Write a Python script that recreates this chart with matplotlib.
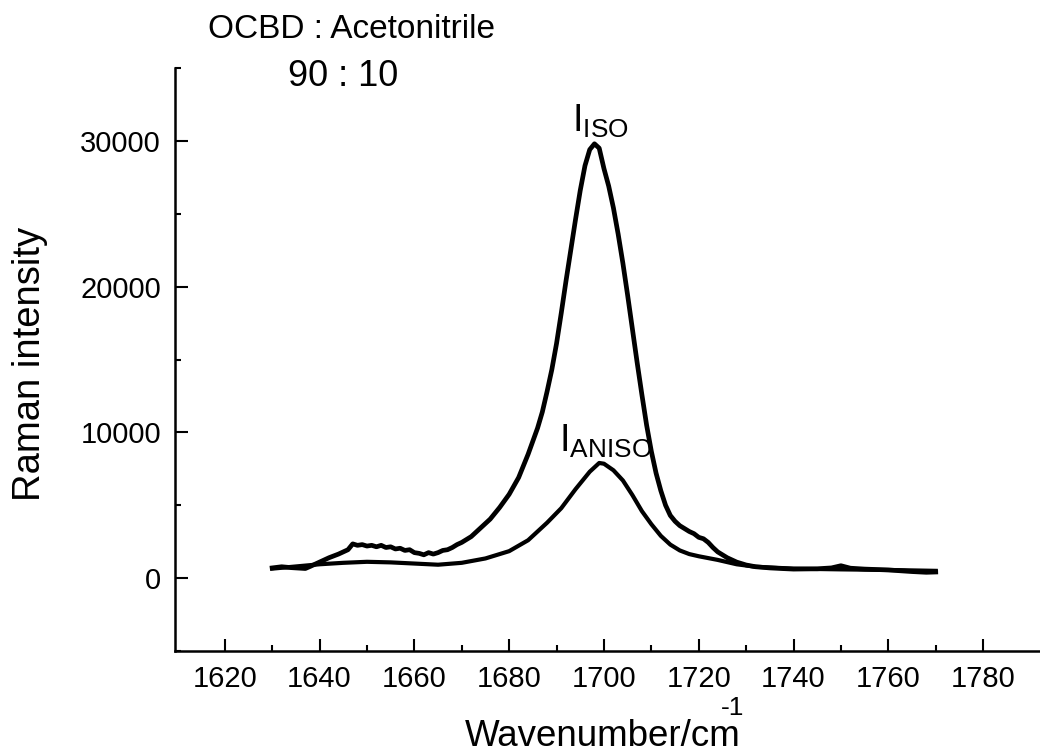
import numpy as np
import matplotlib
matplotlib.use("Agg")
from matplotlib import pyplot as plt
from matplotlib.ticker import MultipleLocator, FixedLocator

plt.rcParams['font.family'] = ['Liberation Sans', 'DejaVu Sans']
plt.rcParams['mathtext.fontset'] = 'custom'
plt.rcParams['mathtext.rm'] = 'Liberation Sans'

# isotropic Raman spectrum (wavenumber, intensity)
iso_w = [1630, 1632, 1634, 1636, 1637, 1638, 1640, 1642, 1644, 1645, 1646, 1647,
         1648, 1649, 1650, 1651, 1652, 1653, 1654, 1655, 1656, 1657, 1658, 1659,
         1660, 1661, 1662, 1663, 1664, 1665, 1666, 1667, 1668, 1669, 1670, 1672,
         1674, 1676, 1678, 1680, 1682, 1684, 1686, 1687, 1688, 1689, 1690, 1691,
         1692, 1693, 1694, 1695, 1696, 1697, 1698, 1699, 1700, 1701, 1702, 1703,
         1704, 1705, 1706, 1707, 1708, 1709, 1710, 1711, 1712, 1713, 1714, 1715,
         1716, 1717, 1718, 1719, 1720, 1721, 1722, 1723, 1724, 1725, 1726, 1727,
         1728, 1730, 1732, 1735, 1738, 1740, 1745, 1748, 1750, 1752, 1755, 1760,
         1765, 1768, 1770]
iso_i = [700, 780, 720, 680, 660, 800, 1100, 1400, 1650, 1800, 1950, 2350,
         2250, 2300, 2200, 2250, 2150, 2250, 2100, 2150, 2000, 2050, 1900, 1950,
         1750, 1700, 1600, 1750, 1650, 1750, 1900, 1950, 2100, 2300, 2450, 2850,
         3450, 4050, 4850, 5750, 6900, 8500, 10300, 11400, 12800, 14300, 16100, 18200,
         20400, 22500, 24600, 26600, 28300, 29400, 29800, 29500, 28100, 26900, 25400, 23600,
         21600, 19400, 17100, 14800, 12600, 10500, 8700, 7200, 6000, 5000, 4300, 3900,
         3600, 3400, 3200, 3050, 2800, 2700, 2450, 2100, 1800, 1600, 1400, 1250,
         1100, 900, 780, 700, 650, 620, 640, 700, 850, 680, 620, 560,
         450, 400, 420]

# anisotropic Raman spectrum
aniso_w = [1630, 1635, 1640, 1645, 1650, 1655, 1660, 1665, 1670, 1675, 1680, 1684,
           1688, 1691, 1694, 1697, 1699, 1700, 1702, 1704, 1706, 1708, 1710, 1712,
           1714, 1716, 1718, 1720, 1724, 1728, 1732, 1740, 1750, 1760, 1770]
aniso_i = [650, 800, 950, 1050, 1120, 1080, 1000, 920, 1050, 1350, 1850, 2600,
           3800, 4800, 6100, 7300, 7900, 7850, 7400, 6700, 5700, 4600, 3700, 2900,
           2300, 1900, 1650, 1500, 1250, 950, 780, 650, 600, 560, 500]

x_major = [1620, 1640, 1660, 1680, 1700, 1720, 1740, 1760, 1780]
x_minor = [1630, 1650, 1670, 1690, 1710, 1730, 1750, 1770]
y_major = [0, 10000, 20000, 30000]

W, H = 1040, 755


def fx(px):
    return px / W


def fy(py):
    return 1 - py / H


fig = plt.figure(figsize=(10.4, 7.55), dpi=100)
ax = fig.add_axes([fx(175), fy(651), 1 - fx(175), (651 - 68) / H])

ax.plot(iso_w, iso_i, color="black", lw=3.4, solid_joinstyle="round")
ax.plot(aniso_w, aniso_i, color="black", lw=3.0)

ax.set_xlim(1609.5, 1792)
ax.set_ylim(-5000, 35000)

for s in ["top", "right"]:
    ax.spines[s].set_visible(False)
for s in ["left", "bottom"]:
    ax.spines[s].set_linewidth(1.8)

ax.set_xticks(x_major)
ax.xaxis.set_minor_locator(FixedLocator(x_minor))
ax.set_yticks(y_major)
ax.yaxis.set_minor_locator(MultipleLocator(5000))
ax.tick_params(which="major", direction="in", length=9, width=1.5,
               labelsize=21, pad=10)
ax.tick_params(which="minor", direction="in", length=4.5, width=1.5)

fig.text(fx(30), fy(364), "Raman intensity", rotation=90, fontsize=27.5,
         ha="center", va="center")
fig.text(fx(603), fy(737), "Wavenumber/cm", fontsize=26.5,
         ha="center", va="center")
fig.text(fx(733), fy(708), "-1", fontsize=19, ha="center", va="center")

fig.text(fx(352), fy(30), "OCBD : Acetonitrile", fontsize=24,
         ha="center", va="center")
fig.text(fx(343), fy(77), "90 : 10", fontsize=26, ha="center", va="center")

ax.text(1693.2, 30600, r"I$_\mathregular{ISO}$", fontsize=27,
        ha="left", va="baseline")
ax.text(1690.6, 8640, r"I$_\mathregular{ANISO}$", fontsize=27,
        ha="left", va="baseline")

fig.savefig("out.png", dpi=100)
